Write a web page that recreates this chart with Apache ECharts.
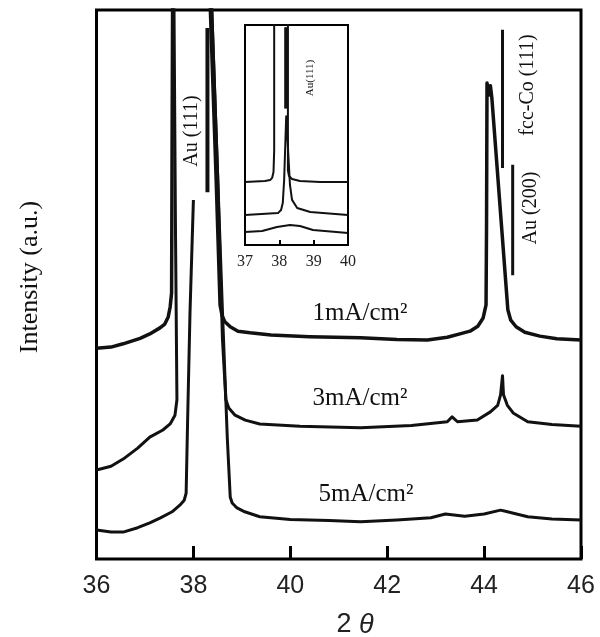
<!DOCTYPE html>
<html>
<head>
<meta charset="utf-8">
<script src="https://cdn.jsdelivr.net/npm/echarts@6/dist/echarts.min.js"></script>
<style>
  html, body { margin: 0; padding: 0; background: #fff; }
  #chart { width: 600px; height: 637px; }
</style>
</head>
<body>
<div id="chart"></div>
<script>
// 2θ ticks
var mainTicks = [36, 38, 40, 42, 44, 46]
var insetTicks = [37, 38, 39, 40]

// main curves [2θ, intensity a.u.] ('-' = gap)
var curve1mA = [
  [36.0, 38.4], [36.3, 38.6], [36.55, 39.2], [36.9, 40.2], [37.1, 41.0], [37.31, 42.1],
  [37.41, 42.8], [37.48, 44.1], [37.52, 45.9], [37.55, 48.5], [37.57, 100], [37.59, 130],
  [38.33, 130], [38.35, 100], [38.47, 69], [38.55, 46.3], [38.59, 44.4], [38.65, 43.2],
  [38.76, 42.3], [38.92, 41.5], [39.17, 41.2], [39.6, 40.8], [40.4, 40.5], [41.45, 40.3],
  [42.2, 40.0], [42.83, 39.9], [43.24, 40.4], [43.5, 41.0], [43.71, 41.5], [43.87, 42.4],
  [43.98, 43.9], [44.04, 46.3], [44.05, 60], [44.06, 86.7], [44.1, 84.5], [44.13, 86.2],
  [44.16, 84], [44.49, 45.4], [44.55, 43.5], [44.66, 42.3], [44.84, 41.3], [45.15, 40.6],
  [45.5, 40.1], [46.0, 39.9]
]
var curve3mA = [
  [36.0, 16.2], [36.3, 16.9], [36.55, 18.2], [36.85, 20.2], [37.1, 22.2], [37.37, 23.5],
  [37.52, 24.6], [37.62, 26.2], [37.66, 29], [37.63, 60], [37.6, 100], [37.61, 130],
  [38.36, 130], [38.38, 100], [38.5, 70], [38.6, 40], [38.67, 29], [38.73, 27.5],
  [38.86, 26.2], [39.07, 25.3], [39.37, 24.6], [40.2, 24.2], [41.45, 23.9], [42.5, 24.3],
  [43.24, 25], [43.34, 25.9], [43.45, 25], [43.86, 25.3], [44.13, 26.8], [44.28, 28],
  [44.34, 29.9], [44.38, 33.4], [44.4, 29.9], [44.48, 28], [44.6, 26.6], [44.9, 25],
  [45.4, 24.5], [46.0, 24.2]
]
var curve5mA = [
  [36.0, 5.3], [36.3, 4.9], [36.55, 4.9], [36.85, 5.7], [37.1, 6.6], [37.32, 7.5],
  [37.56, 8.6], [37.72, 9.8], [37.81, 10.7], [37.85, 12.0], [37.88, 25], [37.93, 45],
  [38.0, 65.4], [38.1, '-'],
  [38.36, 130], [38.38, 100], [38.5, 70], [38.6, 45], [38.7, 22], [38.76, 11.3],
  [38.8, 10.2], [38.9, 9.3], [39.06, 8.6], [39.37, 7.7], [40.0, 7.2], [40.8, 7.0],
  [41.45, 6.8], [42.2, 7.1], [42.9, 7.5], [43.2, 8.2], [43.6, 7.8], [44.0, 8.2],
  [44.34, 8.9], [44.44, 8.7], [44.9, 7.7], [45.4, 7.3], [46.0, 7.1]
]

// peak markers
var markAu111 = [[38.29, 96.7], [38.29, 66.8]]
var markCo111 = [[44.38, 96.4], [44.38, 71.2]]
var markAu200 = [[44.59, 71.8], [44.59, 51.7]]

// inset curves
var inset1mA = [
  [37.0, 28.6], [37.58, 29.1], [37.73, 29.5], [37.79, 30.5], [37.83, 33.2], [37.85, 43],
  [37.85, 100], [37.86, 130], [38.24, 130], [38.25, 100], [38.25, 34], [38.28, 31.4],
  [38.37, 30], [38.6, 29.1], [39.19, 28.6], [40.0, 28.6]
]
var inset3mA = [
  [37.0, 13.6], [37.96, 14.5], [38.05, 15.9], [38.1, 19.1], [38.14, 29.5], [38.2, 58.5],
  [38.25, 44.5], [38.31, 27.3], [38.37, 20.5], [38.52, 16.8], [38.9, 15], [40.0, 13.6]
]
var inset5mA = [
  [37.0, 5.9], [37.5, 6.4], [37.93, 8.2], [38.31, 9.1], [38.6, 8.6], [38.98, 6.8], [40.0, 5.5]
]
var insetMark = [[38.2, 99], [38.2, 62]]

var chart = echarts.init(document.getElementById('chart'))

function curve (data, xi, width) {
  return {
    type: 'line',
    xAxisIndex: xi,
    yAxisIndex: xi,
    data: data,
    showSymbol: false,
    clip: true,
    connectNulls: false,
    lineStyle: { color: '#111', width: width, join: 'round' },
    animation: false
  }
}

var serif = 'Liberation Serif'
var sans = 'Liberation Sans'

chart.setOption({
  backgroundColor: '#fff',
  animation: false,
  grid: [
    { left: 96.5, top: 10, width: 484.5, height: 549, show: true, borderColor: '#000', borderWidth: 3 },
    { left: 245, top: 25, width: 103, height: 220, show: true, borderColor: '#000', borderWidth: 2, backgroundColor: '#fff' }
  ],
  xAxis: [
    {
      type: 'value',
      gridIndex: 0,
      min: mainTicks[0],
      max: mainTicks[mainTicks.length - 1],
      interval: 2,
      axisLine: { show: false },
      splitLine: { show: false },
      axisTick: { inside: true, length: 13, lineStyle: { color: '#000', width: 3 } },
      axisLabel: { fontFamily: sans, fontSize: 25, color: '#222', margin: 15 }
    },
    {
      type: 'value',
      gridIndex: 1,
      min: insetTicks[0],
      max: insetTicks[insetTicks.length - 1],
      interval: 1,
      axisLine: { show: false },
      splitLine: { show: false },
      axisTick: { inside: true, length: 5, lineStyle: { color: '#000', width: 2 } },
      axisLabel: { fontFamily: serif, fontSize: 16, color: '#222', margin: 9 }
    }
  ],
  yAxis: [
    { type: 'value', gridIndex: 0, min: 0, max: 100, show: false },
    { type: 'value', gridIndex: 1, min: 0, max: 100, show: false }
  ],
  series: [
    curve(curve1mA, 0, 3.5),
    curve(curve3mA, 0, 3),
    curve(curve5mA, 0, 3),
    curve(markAu111, 0, 4),
    curve(markCo111, 0, 3),
    curve(markAu200, 0, 3),
    curve(inset1mA, 1, 2),
    curve(inset3mA, 1, 2),
    curve(inset5mA, 1, 2),
    curve(insetMark, 1, 4)
  ],
  graphic: [
    { type: 'text', x: 30, y: 277, rotation: Math.PI / 2, style: { text: 'Intensity (a.u.)', font: '26px ' + serif, fill: '#111', align: 'center', verticalAlign: 'middle' } },
    { type: 'text', x: 355, y: 625, style: { text: '2 {i|θ}', rich: { i: { fontStyle: 'italic', fontFamily: sans, fontSize: 27 } }, font: '27px ' + sans, fill: '#222', align: 'center', verticalAlign: 'middle' } },
    { type: 'text', x: 192, y: 131, rotation: Math.PI / 2, style: { text: 'Au (111)', font: '20px ' + serif, fill: '#111', align: 'center', verticalAlign: 'middle' } },
    { type: 'text', x: 528, y: 85, rotation: Math.PI / 2, style: { text: 'fcc-Co (111)', font: '20px ' + serif, fill: '#111', align: 'center', verticalAlign: 'middle' } },
    { type: 'text', x: 531, y: 208, rotation: Math.PI / 2, style: { text: 'Au (200)', font: '20px ' + serif, fill: '#111', align: 'center', verticalAlign: 'middle' } },
    { type: 'text', x: 310, y: 78, rotation: Math.PI / 2, style: { text: 'Au(111)', font: '11px ' + serif, fill: '#111', align: 'center', verticalAlign: 'middle' } },
    { type: 'text', x: 360, y: 313, style: { text: '1mA/cm²', font: '25px ' + serif, fill: '#111', align: 'center', verticalAlign: 'middle' } },
    { type: 'text', x: 360, y: 398, style: { text: '3mA/cm²', font: '25px ' + serif, fill: '#111', align: 'center', verticalAlign: 'middle' } },
    { type: 'text', x: 366, y: 494, style: { text: '5mA/cm²', font: '25px ' + serif, fill: '#111', align: 'center', verticalAlign: 'middle' } }
  ]
})
</script>
</body>
</html>
